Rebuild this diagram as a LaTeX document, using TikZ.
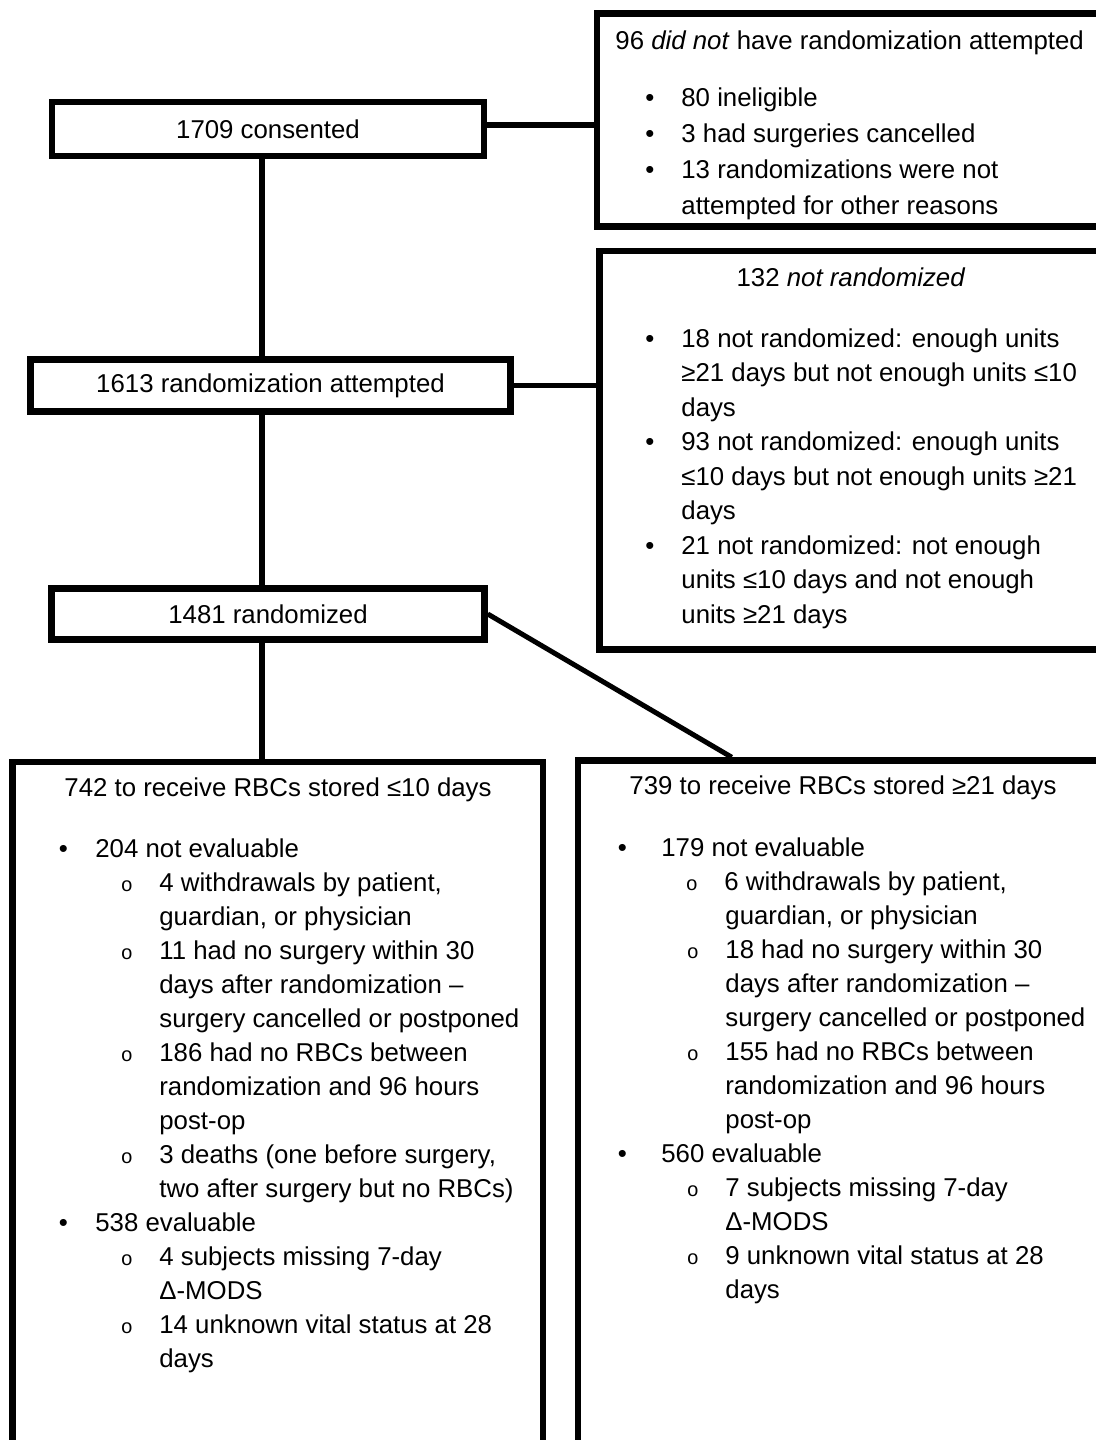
\documentclass[tikz,border=0pt]{standalone}
\usepackage{fontspec}
\setmainfont{Liberation Sans}
\newfontfamily\bulmono{Liberation Mono}

\newlength{\subind}
\setlength{\subind}{32pt}
\newcommand{\bul}[1][13.5pt]{\llap{\textbullet\hspace{#1}}}
\newcommand{\sbul}{\hspace*{\subind}\llap{{\bulmono\fontsize{10pt}{10pt}\selectfont o}\hspace{13.25pt}}}
\newcommand{\subpad}{\hspace*{\subind}}

\begin{document}
\begin{tikzpicture}[x=0.5pt, y=-0.5pt,
    every node/.style={font=\fontsize{12.9pt}{17pt}\selectfont},
    box/.style={draw, line width=3.25pt, inner sep=0pt},
    link/.style={line width=3pt},
    lines/.style={inner sep=0pt, align=left, anchor=base west}]
  \useasboundingbox (0,0) rectangle (1096,1440);
  \clip (0,0) rectangle (1096,1440);

  % main column
  \node[box, minimum width=216pt, minimum height=27pt] (cons) at (268,129) {1709 consented};
  \node[box, minimum width=240pt, minimum height=26pt] (att) at (270.5,385.5) {1613 randomization attempted};
  \node[box, minimum width=216.5pt, minimum height=25.5pt] (rand) at (268,614) {1481 randomized};
  \coordinate (trunk) at (262,0);

  % exclusion boxes
  \node[box, minimum width=256.5pt, minimum height=106.5pt] (noatt) at (853.5,120) {};
  \node[box, minimum width=255.25pt, minimum height=199.25pt] (notrnd) at (854.75,450.25) {};

  % arms
  \node[box, minimum width=265.25pt, minimum height=349pt] (short) at (277.75,1111) {};
  \node[box, minimum width=266pt, minimum height=349.75pt] (long) at (844,1110.25) {};

  % connectors
  \draw[link] (cons.south -| trunk) -- (att.north -| trunk);
  \draw[link] (att.south -| trunk) -- (rand.north -| trunk);
  \draw[link] (rand.south -| trunk) -- (short.north -| trunk);
  \draw[link] ([yshift=2pt]cons.east) -- ([yshift=2pt]cons.east -| noatt.west);
  \draw[link, line width=2.25pt] (att.east) -- (att.east -| notrnd.west);
  \draw[link, line width=2.5pt] (rand.east) -- ([xshift=78.5pt]long.north west);

  % box texts (lists are placed by the baseline of their last line)
  \node[lines] (noatttitle) at (615,49) {96 \textit{did not} have randomization attempted};
  \node[lines, font=\fontsize{12.9pt}{18pt}\selectfont] (noattlist) at (681,214) {%
    \bul 80 ineligible\\
    \bul 3 had surgeries cancelled\\
    \bul 13 randomizations were not\\
    attempted for other reasons};

  \node[inner sep=0pt, anchor=base] (notrndtitle) at (851,286) {132 \textit{not randomized}};
  \node[lines, font=\fontsize{12.9pt}{17.25pt}\selectfont] (notrndlist) at (681,623) {%
    \bul 18 not randomized: enough units\\
    ≥21 days but not enough units ≤10\\
    days\\
    \bul 93 not randomized: enough units\\
    ≤10 days but not enough units ≥21\\
    days\\
    \bul 21 not randomized: not enough\\
    units ≤10 days and not enough\\
    units ≥21 days};

  \node[inner sep=0pt, anchor=base] (shorttitle) at (278,796) {742 to receive RBCs stored ≤10 days};
  \node[lines] (shortlist) at (95,1367) {%
    \bul[13.75pt]204 not evaluable\\
    \sbul 4 withdrawals by patient,\\
    \subpad guardian, or physician\\
    \sbul 11 had no surgery within 30\\
    \subpad days after randomization –\\
    \subpad surgery cancelled or postponed\\
    \sbul 186 had no RBCs between\\
    \subpad randomization and 96 hours\\
    \subpad post-op\\
    \sbul 3 deaths (one before surgery,\\
    \subpad two after surgery but no RBCs)\\
    \bul[13.75pt]538 evaluable\\
    \sbul 4 subjects missing 7-day\\
    \subpad Δ-MODS\\
    \sbul 14 unknown vital status at 28\\
    \subpad days};

  \node[inner sep=0pt, anchor=base] (longtitle) at (843,794) {739 to receive RBCs stored ≥21 days};
  \node[lines] (longlist) at (661,1298) {%
    \bul[17.25pt]179 not evaluable\\
    \setlength{\subind}{31.5pt}\sbul 6 withdrawals by patient,\\
    \subpad guardian, or physician\\
    \sbul 18 had no surgery within 30\\
    \subpad days after randomization –\\
    \subpad surgery cancelled or postponed\\
    \sbul 155 had no RBCs between\\
    \subpad randomization and 96 hours\\
    \subpad post-op\\
    \bul[17.25pt]560 evaluable\\
    \sbul 7 subjects missing 7-day\\
    \subpad Δ-MODS\\
    \sbul 9 unknown vital status at 28\\
    \subpad days};
\end{tikzpicture}
\end{document}
